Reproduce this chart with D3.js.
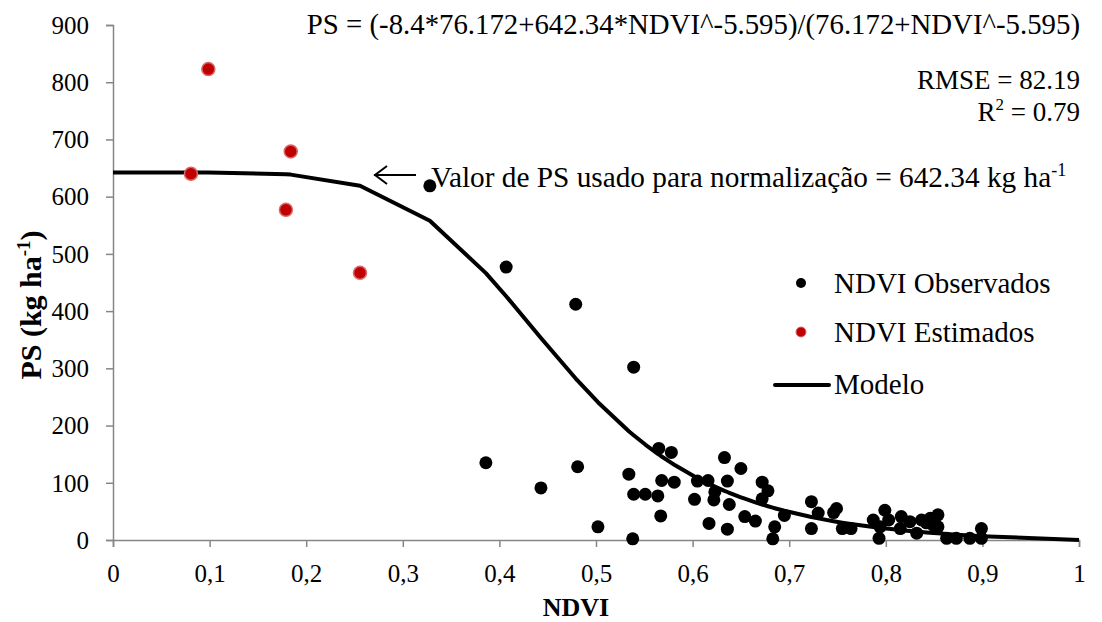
<!DOCTYPE html>
<html><head><meta charset="utf-8">
<script src="https://cdn.jsdelivr.net/npm/d3@7"></script>
<style>
html,body{margin:0;padding:0;background:#fff;}
</style></head>
<body>
<svg id="chart" width="1102" height="622"></svg>
<script>
// Observed NDVI / PS (kg ha-1)
const obsX = [0.328,0.407,0.479,0.539,0.386,0.443,0.481,0.502,0.538,0.534,0.539,0.551,0.564,0.567,0.565,0.578,0.568,0.581,0.605,0.616,0.602,0.633,0.650,0.636,0.623,0.622,0.638,0.617,0.636,0.654,0.665,0.672,0.678,0.672,0.695,0.685,0.683,0.723,0.730,0.723,0.749,0.746,0.755,0.764,0.787,0.799,0.794,0.803,0.793,0.816,0.815,0.825,0.832,0.837,0.846,0.854,0.854,0.863,0.873,0.887,0.899,0.899,0.842,0.849];
const obsY = [619,477,412,302,135,91,128,23,2,115,80,80,77,42,160,153,104,101,103,104,71,144,125,103,84,70,62,29,19,41,33,101,86,72,43,23,2,67,47,20,55,48,20,20,35,52,23,35,3,41,20,32,12,35,38,44,23,3,3,3,20,3,30,26];
// Estimated NDVI / PS
const estX = [0.0987,0.184,0.0807,0.179,0.2557];
const estY = [823,679,640,577,467];
// Model parameters (from equation shown)
const modelA = -8.4, modelB = 76.172, modelC = 642.34, modelP = -5.595;
const xTicks = [0,0.1,0.2,0.3,0.4,0.5,0.6,0.7,0.8,0.9,1];
const yTicks = [0,100,200,300,400,500,600,700,800,900];
const legendLabels = ["NDVI Observados","NDVI Estimados","Modelo"];

const FONT = "'Liberation Serif'";
const svg = d3.select("#chart");
const L = 113, R = 1079, T = 25, B = 540;
const x = d3.scaleLinear().domain([0,1]).range([L,R]);
const y = d3.scaleLinear().domain([0,900]).range([B,T]);
const axisColor = "#868686";

function model(v){
  if (v <= 0) return modelC;
  const t = Math.pow(v, modelP);
  return (modelA*modelB + modelC*t)/(modelB + t);
}
function txt(sel, size, bold){
  return sel.style("font-family", FONT).style("font-size", size + "px")
    .style("font-weight", bold ? "bold" : "normal").attr("fill", "#000");
}

// axes
const xAxis = svg.append("g").attr("transform",`translate(0,${B})`)
  .call(d3.axisBottom(x).tickValues(xTicks).tickSize(7).tickPadding(0)
    .tickFormat(d => d===0 ? "0" : d===1 ? "1" : d3.format(".1f")(d).replace(".",",")));
const yAxis = svg.append("g").attr("transform",`translate(${L},0)`)
  .call(d3.axisLeft(y).tickValues(yTicks).tickSize(7).tickPadding(0));
[xAxis,yAxis].forEach(g=>{
  g.select(".domain").attr("stroke",axisColor).attr("stroke-width",1.5);
  g.selectAll(".tick line").attr("stroke",axisColor).attr("stroke-width",1.5);
  txt(g.selectAll(".tick text"), 25, false);
});
xAxis.selectAll(".tick text").attr("y",42).attr("dy",0);
yAxis.selectAll(".tick text").attr("x",-24).attr("dy","0.33em");

// axis titles
txt(svg.append("text"), 26, true).attr("x",576).attr("y",616).attr("text-anchor","middle").text("NDVI");
const yt = txt(svg.append("text"), 30, true).attr("transform",`translate(41,305) rotate(-90)`)
  .attr("text-anchor","middle");
yt.append("tspan").text("PS (kg ha");
yt.append("tspan").attr("dy",-11).style("font-size","19px").text("-1");
yt.append("tspan").attr("dy",11).text(")");

// model curve
const allX = Array.from(new Set([0, ...estX, ...obsX, 1])).sort((a,b)=>a-b);
svg.append("path").datum(allX)
  .attr("fill","none").attr("stroke","#000").attr("stroke-width",4).attr("stroke-linejoin","round")
  .attr("d", d3.line().x(d=>x(d)).y(d=>y(model(d))));

// observed points
svg.append("g").selectAll("circle").data(obsX.map((v,i)=>[v,obsY[i]])).join("circle")
  .attr("cx",d=>x(d[0])).attr("cy",d=>y(d[1])).attr("r",6.5).attr("fill","#000");
// estimated points
svg.append("g").selectAll("circle").data(estX.map((v,i)=>[v,estY[i]])).join("circle")
  .attr("cx",d=>x(d[0])).attr("cy",d=>y(d[1])).attr("r",6.5).attr("fill","#c00000")
  .attr("stroke","#d66a6a").attr("stroke-width",1.5);

// equation text
txt(svg.append("text"), 28.8, false).attr("x",1080).attr("y",34).attr("text-anchor","end")
  .text("PS = (-8.4*76.172+642.34*NDVI^-5.595)/(76.172+NDVI^-5.595)");
txt(svg.append("text"), 27, false).attr("x",1080).attr("y",89).attr("text-anchor","end").text("RMSE = 82.19");
const r2 = txt(svg.append("text"), 27, false).attr("x",1080).attr("y",121).attr("text-anchor","end");
r2.append("tspan").text("R");
r2.append("tspan").attr("dy",-11).style("font-size","17px").text("2");
r2.append("tspan").attr("dy",11).text(" = 0.79");

// annotation arrow
const ay = 175;
svg.append("line").attr("x1",374).attr("x2",416).attr("y1",ay).attr("y2",ay).attr("stroke","#000").attr("stroke-width",2);
svg.append("path").attr("d",`M387,${ay-9} L375,${ay} L387,${ay+9}`).attr("fill","none").attr("stroke","#000").attr("stroke-width",2);
const an = txt(svg.append("text"), 29.3, false).attr("x",431).attr("y",187);
an.append("tspan").text("Valor de PS usado para normalização = 642.34 kg ha");
an.append("tspan").attr("dy",-11).style("font-size","18px").text("-1");

// legend
svg.append("circle").attr("cx",801).attr("cy",283).attr("r",5).attr("fill","#000");
txt(svg.append("text"), 29, false).attr("x",834).attr("y",293).text(legendLabels[0]);
svg.append("circle").attr("cx",801).attr("cy",332).attr("r",5).attr("fill","#c00000").attr("stroke","#d66a6a").attr("stroke-width",1);
txt(svg.append("text"), 29, false).attr("x",834).attr("y",342).text(legendLabels[1]);
svg.append("line").attr("x1",775).attr("x2",829).attr("y1",385).attr("y2",385).attr("stroke","#000").attr("stroke-width",4).attr("stroke-linecap","round");
txt(svg.append("text"), 29, false).attr("x",834).attr("y",394).text(legendLabels[2]);
</script>
</body></html>
